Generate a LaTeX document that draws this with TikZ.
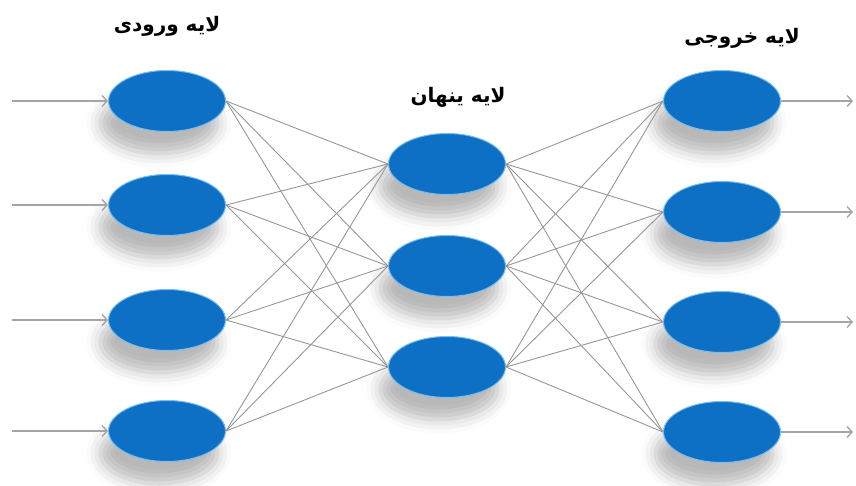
\documentclass[tikz,border=0pt]{standalone}
\usepackage{fontspec}
\newfontfamily\arabicfont[Script=Arabic]{DejaVu Sans}
\TeXXeTstate=1
\usetikzlibrary{shapes.geometric,shadows.blur,arrows.meta}
\definecolor{nodeblue}{RGB}{14,112,196}
\definecolor{rimblue}{RGB}{120,190,240}
\definecolor{linkgray}{RGB}{150,150,150}
\definecolor{arrowgray}{RGB}{165,165,165}

\begin{document}
\begin{tikzpicture}[x=1pt, y=-1pt,
  neuron/.style={ellipse, minimum width=117pt, minimum height=61pt, inner sep=0pt,
    fill=nodeblue, draw=rimblue, line width=1pt,
    blur shadow={shadow xshift=-8pt, shadow yshift=-22pt, shadow blur radius=14pt, shadow opacity=28}},
  link/.style={linkgray, line width=0.9pt},
  io/.style={arrowgray, line width=1.4pt, -{Straight Barb[length=5pt,width=11pt]}},
  title/.style={font=\arabicfont\bfseries\fontsize{20}{24}\selectfont}]
\useasboundingbox (0,0) rectangle (856,486);

\foreach \y [count=\i] in {101,205,320,431}
  \node[neuron] (in\i) at (167,\y) {};
\foreach \y [count=\i] in {164,266,367}
  \node[neuron] (hid\i) at (447,\y) {};
\foreach \y [count=\i] in {101,212,322,432}
  \node[neuron] (out\i) at (722,\y) {};

\foreach \i in {1,...,4}
  \foreach \j in {1,...,3}
    \draw[link] (in\i.east) -- (hid\j.west);
\foreach \j in {1,...,3}
  \foreach \k in {1,...,4}
    \draw[link] (hid\j.east) -- (out\k.west);

\foreach \y [count=\i] in {101,205,320,431} {
  \coordinate (src\i) at (12,\y);
  \draw[io] (src\i) -- (in\i.west);
}
\foreach \y [count=\i] in {101,212,322,432} {
  \coordinate (dst\i) at (853,\y);
  \draw[io] (out\i.east) -- (dst\i);
}

\node[title] (titleIn) at (167,26) {\beginR لایه ورودی\endR};
\node[title] (titleHid) at (458,97) {\beginR لایه ینهان\endR};
\node[title] (titleOut) at (742,38) {\beginR لایه خروجی\endR};
\end{tikzpicture}
\end{document}
